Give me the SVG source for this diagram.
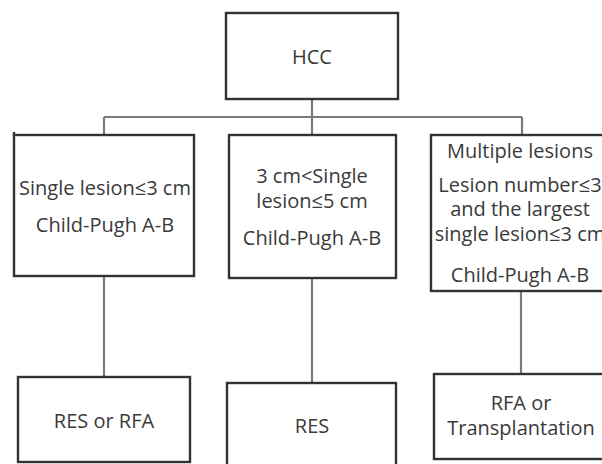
<svg xmlns="http://www.w3.org/2000/svg" width="602" height="464" viewBox="0 0 602 464">
<style>
.box{fill:#fff;stroke:#333;stroke-width:2.4}
.conn{fill:none;stroke:#7a7a7a;stroke-width:2.2}
text{font-family:"Open Sans","Noto Sans","Liberation Sans",sans-serif;font-size:20px;fill:#3a3a3a;text-anchor:middle}
</style>
<rect width="602" height="464" fill="#fff"/>
<g id="connectors">
<path class="conn" d="M312 99V117M104 117H522M104 117V135M312 117V135M522 117V135"/>
<path class="conn" d="M104 276V377M312 278V383M521 291V374"/>
</g>
<g id="hcc">
<rect class="box" x="226" y="13" width="172" height="86"/>
<text x="312" y="64">HCC</text>
</g>
<g id="single3">
<rect class="box" x="14" y="135" width="180" height="141"/>
<path d="M14 132V136" stroke="#333" stroke-width="2.4"/>
<text x="105" y="195">Single lesion≤3 cm</text>
<text x="105" y="232">Child-Pugh A-B</text>
</g>
<g id="single5">
<rect class="box" x="229" y="135" width="167" height="143"/>
<text x="312" y="183">3 cm&lt;Single</text>
<text x="312" y="208">lesion≤5 cm</text>
<text x="312" y="245">Child-Pugh A-B</text>
</g>
<g id="multiple">
<rect class="box" x="431" y="135" width="180" height="156"/>
<text x="520" y="158">Multiple lesions</text>
<text x="520" y="192">Lesion number≤3</text>
<text x="520" y="216">and the largest</text>
<text x="520" y="241">single lesion≤3 cm</text>
<text x="520" y="282">Child-Pugh A-B</text>
</g>
<g id="res-rfa">
<rect class="box" x="18" y="377" width="172" height="85"/>
<text x="104" y="428">RES or RFA</text>
</g>
<g id="res">
<rect class="box" x="227" y="383" width="169" height="90"/>
<text x="312" y="433">RES</text>
</g>
<g id="rfa-trans">
<rect class="box" x="434" y="374" width="180" height="85"/>
<text x="521" y="410">RFA or</text>
<text x="521" y="435">Transplantation</text>
</g>
</svg>
